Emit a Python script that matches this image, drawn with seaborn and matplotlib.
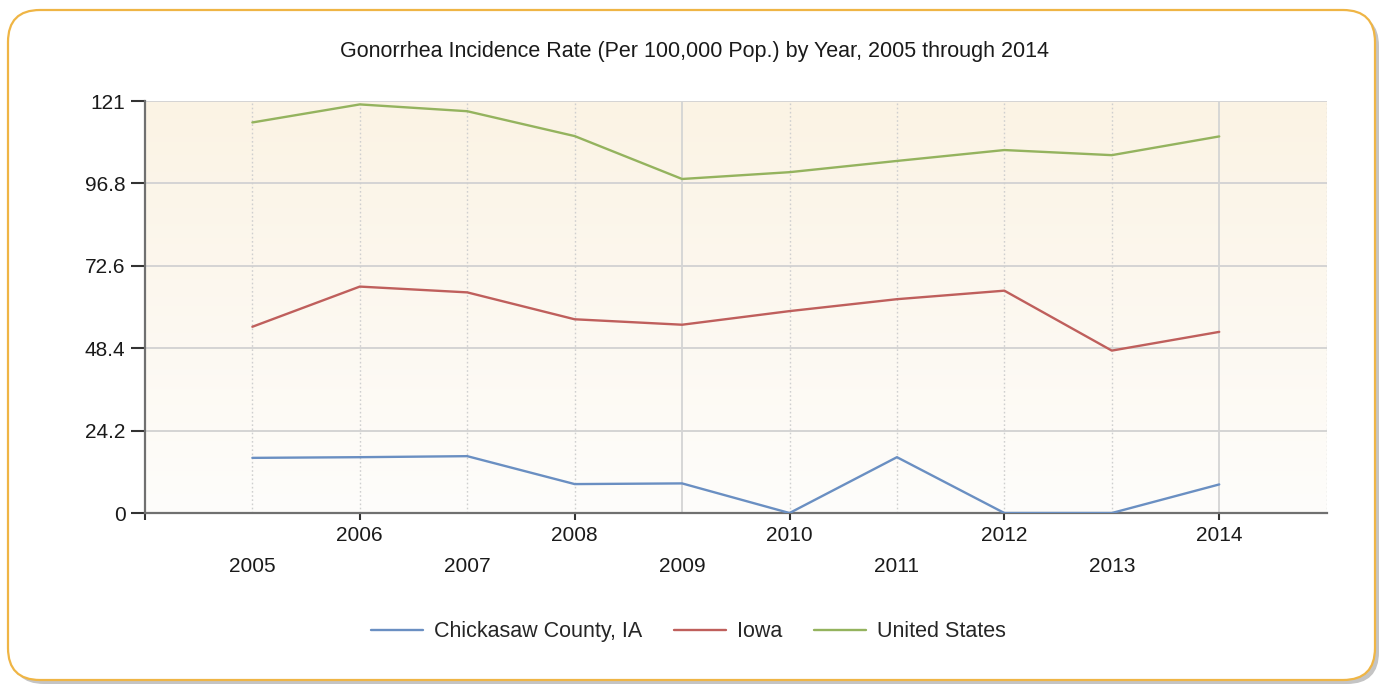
import matplotlib.pyplot as plt
import seaborn as sns
import pandas as pd
import numpy as np
from matplotlib.patches import FancyBboxPatch

years = [2005, 2006, 2007, 2008, 2009, 2010, 2011, 2012, 2013, 2014]
chickasaw = [16.2, 16.4, 16.7, 8.5, 8.7, 0.0, 16.4, 0.0, 0.0, 8.4]
iowa = [54.7, 66.5, 64.8, 56.9, 55.3, 59.3, 62.8, 65.3, 47.7, 53.2]
united_states = [114.7, 120.0, 118.0, 110.7, 98.1, 100.1, 103.4, 106.6, 105.1, 110.6]

series_names = ["Chickasaw County, IA", "Iowa", "United States"]
colors = ["#6A8FC2", "#BF5F5C", "#94B35E"]
y_ticks = [0, 24.2, 48.4, 72.6, 96.8, 121]
y_tick_labels = ["0", "24.2", "48.4", "72.6", "96.8", "121"]
title = "Gonorrhea Incidence Rate (Per 100,000 Pop.) by Year, 2005 through 2014"

df = pd.DataFrame({
    "year": years * 3,
    "rate": chickasaw + iowa + united_states,
    "area": [n for n in series_names for _ in years],
})

sns.set_style("white")
plt.rcParams['font.family'] = ['Liberation Sans', 'DejaVu Sans']

fig = plt.figure(figsize=(13.87, 6.89), dpi=100)
fig.patch.set_facecolor("white")

# rounded card border with a soft shadow (pixel coordinates)
shadow = FancyBboxPatch((12, 5), 1367, 670, boxstyle="round,pad=0,rounding_size=32",
                        transform=None, facecolor="#c4c4c4", edgecolor="none", zorder=0)
card = FancyBboxPatch((8, 9), 1367, 670, boxstyle="round,pad=0,rounding_size=32",
                      transform=None, facecolor="white", edgecolor="#EFB545",
                      linewidth=1.6, zorder=1)
fig.patches.extend([shadow, card])

ax = fig.add_axes([0.1045, 0.2554, 0.852, 0.598])
ax.set_zorder(2)

# beige to white gradient background
grad = np.linspace(0, 1, 256).reshape(-1, 1)
top = np.array([251, 243, 228]) / 255
bottom = np.array([254, 253, 251]) / 255
img = top + (bottom - top) * grad[:, :, None]
ax.imshow(img, extent=[0, 1, 0, 1], transform=ax.transAxes, aspect='auto', zorder=0)

sns.lineplot(data=df, x="year", y="rate", hue="area", palette=colors,
             linewidth=1.7, ax=ax, zorder=3)

ax.set_xlim(2004, 2015)
ax.set_ylim(0, 121)

# grid lines
for y in y_ticks[1:]:
    ax.axhline(y, color="#d4d4d4", linewidth=1.4, zorder=1)
for yr in range(2005, 2016):
    if yr in (2009, 2014):
        ax.axvline(yr, color="#d4d4d4", linewidth=1.3, zorder=1)
    else:
        ax.axvline(yr, color="#cfcfcf", linewidth=1.0, linestyle=(0, (1.2, 1.8)), zorder=1)

ax.set_yticks(y_ticks)
ax.set_yticklabels(y_tick_labels)
ax.set_xticks([2004, 2006, 2008, 2010, 2012, 2014])
ax.set_xticklabels(["", "2006", "2008", "2010", "2012", "2014"])
ax.set_xticks([2005, 2007, 2009, 2011, 2013], minor=True)
ax.set_xticklabels(["2005", "2007", "2009", "2011", "2013"], minor=True)

ax.tick_params(axis="y", which="major", length=10, width=1.5, color="#333333",
               labelsize=15, labelcolor="#1a1a1a", pad=4)
ax.tick_params(axis="x", which="major", length=5, width=1.5, color="#333333",
               labelsize=15, labelcolor="#1a1a1a", pad=4)
ax.tick_params(axis="x", which="minor", length=0, labelsize=15,
               labelcolor="#1a1a1a", pad=32)
ax.tick_params(axis="y", which="both", left=True, direction="out")
ax.tick_params(axis="x", which="major", bottom=True, direction="out")

for side in ["left", "bottom"]:
    ax.spines[side].set_color("#707070")
    ax.spines[side].set_linewidth(1.6)
ax.spines["top"].set_visible(False)
ax.spines["right"].set_visible(False)

ax.set_xlabel("")
ax.set_ylabel("")

sns.move_legend(ax, "center", bbox_to_anchor=(0.46, -0.288), ncol=3,
                frameon=False, title=None, fontsize=15.5, handlelength=2.4,
                columnspacing=1.5, handletextpad=0.5)

fig.text(0.501, 0.925, title, ha="center", va="center", fontsize=15.5, color="#1a1a1a")

plt.savefig("out.png", dpi=100)
